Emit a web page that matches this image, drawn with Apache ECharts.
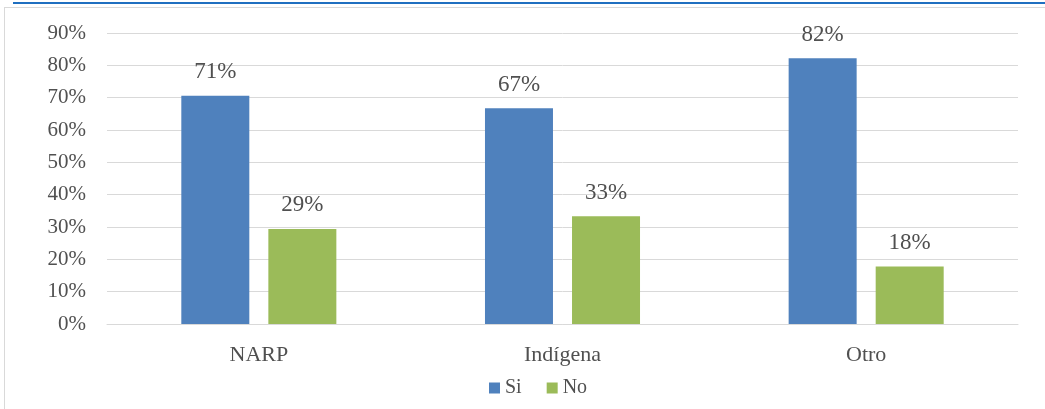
<!DOCTYPE html>
<html>
<head>
<meta charset="utf-8">
<script src="https://cdn.jsdelivr.net/npm/echarts@6/dist/echarts.min.js"></script>
<style>
html,body{margin:0;padding:0;background:#fff;}
#topline{position:absolute;left:13px;top:2px;width:1032px;height:2px;background:#1f6fc0;}
#frame{position:absolute;left:4px;top:7px;width:1045px;height:410px;border-left:1px solid #d9d9d9;border-top:1px solid #d9d9d9;box-sizing:border-box;}
#chart{position:absolute;left:0;top:0;width:1045px;height:409px;}
</style>
</head>
<body>
<div id="topline"></div>
<div id="frame"></div>
<div id="chart"></div>
<script>
const categories = ['NARP', 'Indígena', 'Otro'];
const siValues = [70.6, 66.7, 82.2];
const noValues = [29.4, 33.3, 17.8];
const yTicks = [0, 10, 20, 30, 40, 50, 60, 70, 80, 90];

const font = '"Liberation Serif", "DejaVu Serif", serif';
const textColor = '#505050';
const chart = echarts.init(document.getElementById('chart'));
const labelCfg = {
  show: true, position: 'top', distance: 12,
  formatter: p => Math.round(p.value) + '%',
  fontFamily: font, fontSize: 23, color: textColor
};
chart.setOption({
  animation: false,
  textStyle: { fontFamily: font },
  grid: { left: 107, right: 27, top: 33, bottom: 85, containLabel: false },
  legend: {
    data: ['Si', 'No'], top: 373, left: 484,
    itemWidth: 11, itemHeight: 11, itemGap: 25,
    icon: 'rect',
    textStyle: { fontFamily: font, fontSize: 20, color: textColor }
  },
  xAxis: {
    type: 'category', data: categories,
    axisLine: { lineStyle: { color: '#d9d9d9' } },
    axisTick: { show: false },
    axisLabel: { fontFamily: font, fontSize: 22, color: textColor, margin: 20 }
  },
  yAxis: {
    type: 'value', min: yTicks[0], max: yTicks[yTicks.length - 1], interval: 10,
    axisLabel: { formatter: v => v + '%', fontFamily: font, fontSize: 21, color: textColor, margin: 21 },
    axisLine: { show: false }, axisTick: { show: false },
    splitLine: { lineStyle: { color: '#d9d9d9', width: 1 } }
  },
  series: [
    { name: 'Si', type: 'bar', data: siValues, barWidth: 68, barGap: '28%',
      itemStyle: { color: '#4F81BD' }, label: labelCfg },
    { name: 'No', type: 'bar', data: noValues, barWidth: 68,
      itemStyle: { color: '#9BBB59' }, label: labelCfg }
  ]
});
</script>
</body>
</html>
